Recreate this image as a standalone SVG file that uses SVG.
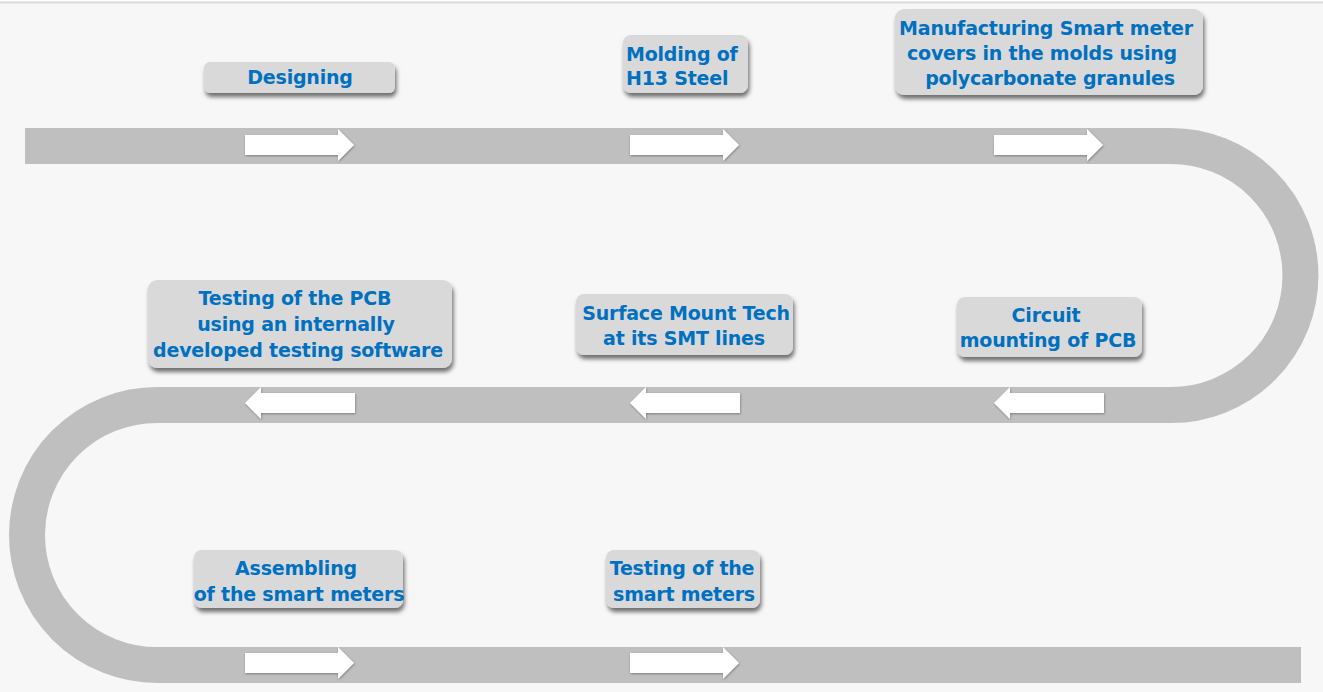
<svg xmlns="http://www.w3.org/2000/svg" width="1323" height="692" viewBox="0 0 1323 692">
  <defs>
    <filter id="boxShadow" x="-10%" y="-20%" width="120%" height="150%">
      <feDropShadow dx="1.5" dy="4" stdDeviation="2.2" flood-color="#000" flood-opacity="0.55"/>
    </filter>
    <filter id="arrowShadow" x="-10%" y="-30%" width="120%" height="160%">
      <feDropShadow dx="0.5" dy="1" stdDeviation="1" flood-color="#000" flood-opacity="0.35"/>
    </filter>
    <!-- rightward and leftward block arrows, drawn at origin -->
    <path id="arrowR" d="M0,-10 H93 V-16 L109,0 L93,16 V10 H0 Z"/>
    <path id="arrowL" d="M0,0 L16,-16 V-10 H110 V10 H16 V16 Z"/>
  </defs>
  <style>
    .box { fill: #d9d9d9; filter: url(#boxShadow); }
    .label { font-family: "DejaVu Sans", "Liberation Sans", sans-serif; font-weight: bold; font-size: 19px; letter-spacing: -0.2px; fill: #0070c0; text-anchor: middle; }
    .arrow { fill: #ffffff; filter: url(#arrowShadow); }
  </style>

  <!-- background and top rule -->
  <rect x="0" y="0" width="1323" height="692" fill="#f7f7f7"/>
  <rect x="0" y="0" width="1323" height="1.5" fill="#ffffff"/>
  <rect x="0" y="1.5" width="1323" height="2" fill="#d9d9d9"/>

  <!-- serpentine track with direction arrows -->
  <g id="connectors">
    <path d="M25,146 H1171 A129.5,129.5 0 0 1 1171,405 H157 A130,130 0 0 0 157,665 H1301" fill="none" stroke="#bfbfbf" stroke-width="36"/>
    <use href="#arrowR" class="arrow" x="245" y="145"/>
    <use href="#arrowR" class="arrow" x="630" y="145"/>
    <use href="#arrowR" class="arrow" x="994" y="145"/>
    <use href="#arrowL" class="arrow" x="245" y="403"/>
    <use href="#arrowL" class="arrow" x="630" y="403"/>
    <use href="#arrowL" class="arrow" x="994" y="403"/>
    <use href="#arrowR" class="arrow" x="245" y="663"/>
    <use href="#arrowR" class="arrow" x="630" y="663"/>
  </g>

  <g id="designing">
    <rect class="box" x="204" y="62" width="191" height="31" rx="6"/>
    <text class="label" x="300" y="84">Designing</text>
  </g>

  <g id="molding">
    <rect class="box" x="623" y="35" width="125" height="58" rx="8"/>
    <text class="label" x="626" y="61" style="text-anchor:start">Molding of</text>
    <text class="label" x="626" y="85" style="text-anchor:start">H13 Steel</text>
  </g>

  <g id="manufacturing">
    <rect class="box" x="895" y="9" width="308" height="86" rx="9"/>
    <text class="label" x="1046" y="35">Manufacturing Smart meter</text>
    <text class="label" x="1042" y="60">covers in the molds using</text>
    <text class="label" x="1050" y="85">polycarbonate granules</text>
  </g>

  <g id="circuit">
    <rect class="box" x="957" y="297" width="185" height="60" rx="8"/>
    <text class="label" x="1046" y="322">Circuit</text>
    <text class="label" x="1048" y="347">mounting of PCB</text>
  </g>

  <g id="smt">
    <rect class="box" x="576" y="294" width="217" height="61" rx="8"/>
    <text class="label" x="686" y="320">Surface Mount Tech</text>
    <text class="label" x="684" y="345">at its SMT lines</text>
  </g>

  <g id="pcb-testing">
    <rect class="box" x="148" y="280" width="304" height="88" rx="9"/>
    <text class="label" x="295" y="305">Testing of the PCB</text>
    <text class="label" x="296" y="331">using an internally</text>
    <text class="label" x="298" y="357">developed testing software</text>
  </g>

  <g id="assembling">
    <rect class="box" x="194" y="550" width="209" height="58" rx="8"/>
    <text class="label" x="296" y="575">Assembling</text>
    <text class="label" x="299" y="601">of the smart meters</text>
  </g>

  <g id="meter-testing">
    <rect class="box" x="606" y="550" width="154" height="58" rx="8"/>
    <text class="label" x="682" y="575">Testing of the</text>
    <text class="label" x="684" y="601">smart meters</text>
  </g>
</svg>
